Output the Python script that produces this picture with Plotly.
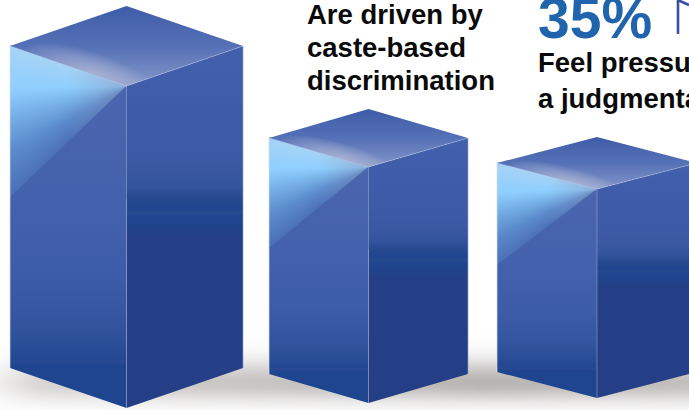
import numpy as np
import plotly.graph_objects as go

# --- data ---
bar_names = ["Bar 1", "Bar 2", "Bar 3"]
bar_heights = [322, 236, 209]
caption_lines = ["Are driven by", "caste-based", "discrimination"]
stat_label = "35%"
stat_lines = ["Feel pressu", "a judgmenta"]

# --- layout of the drawing (pixels) ---
W, H = 689, 410
bar_left = [10, 269, 497]
bar_half = [116.5, 99.5, 100]
bar_depth = [40, 29, 26]
bar_base = [368, 374, 372]
diag_end = [197, 248, 265]

LEFT_STOPS = [[0, "#4a66ae"], [.35, "#4461ad"], [.6, "#3c5ba8"], [.75, "#32549d"], [.85, "#234891"],
              [.855, "#2a4a92"], [.87, "#1f458f"], [1, "#1f458f"]]
RIGHT_STOPS = [[0, "#4360ac"], [.15, "#3e5ca9"], [.33, "#3b59a3"], [.39, "#34539d"], [.42, "#27498f"],
               [.45, "#20458f"], [.46, "#27498f"], [.47, "#20458f"], [.495, "#20438b"], [.535, "#243f85"], [1, "#243f85"]]
TOP_STOPS = [[0, "#3e5ca8"], [.5, "#5571b6"], [1, "#8296c8"]]
SHINE_SCALE = [[0, "#4b6fb6"], [.3, "#5b8bcc"], [.5, "#72aae2"], [.72, "#8fcfff"], [1, "#a6d3f6"]]
SHADOW_SCALE = [[0, "#ffffff"], [1, "#b8b4b2"]]

fig = go.Figure()


def poly(xs, ys, color=None, grad=None):
    t = dict(x=list(xs) + [xs[0]], y=list(ys) + [ys[0]], mode="lines", fill="toself",
             line=dict(width=0), hoverinfo="skip", showlegend=False)
    if grad:
        t["fillgradient"] = grad
    else:
        t["fillcolor"] = color
    fig.add_trace(go.Scatter(**t))


def seg(xs, ys, color, width=1):
    fig.add_trace(go.Scatter(x=xs, y=ys, mode="lines", line=dict(color=color, width=width),
                             hoverinfo="skip", showlegend=False))


def clip_half(points, a, b, inside):
    """Keep the part of a polygon on the side of line a-b where `inside` lies."""
    def side(p):
        return (b[0]-a[0])*(p[1]-a[1]) - (b[1]-a[1])*(p[0]-a[0])
    s = side(inside)
    out = []
    for i, p in enumerate(points):
        q = points[(i+1) % len(points)]
        sp, sq = side(p)*s, side(q)*s
        if sp >= 0:
            out.append(p)
        if sp*sq < 0:
            t = sp/(sp-sq)
            out.append((p[0]+t*(q[0]-p[0]), p[1]+t*(q[1]-p[1])))
    return out


# ground shadow
sx = np.arange(0, W+2, 3.0)
sy = np.arange(330, H+3, 2.0)
gx = np.interp(sx, [0, 10, 40, 120, 255, 350, 480, 689], [.22, .32, .55, .68, .78, .85, 1, .85])
gy = np.where(sy < 382, np.exp(-((sy-382)/22)**2), np.exp(-((sy-382)/19)**2))
fig.add_trace(go.Heatmap(x=sx, y=sy, z=np.outer(gy, gx), zmin=0, zmax=1, colorscale=SHADOW_SCALE,
                         zsmooth="best", showscale=False, hoverinfo="skip"))

# shine of the left faces
for i in range(3):
    xl, xm = bar_left[i], bar_left[i]+bar_half[i]
    ct = bar_base[i]-bar_heights[i]
    my = ct+bar_depth[i]
    ey = diag_end[i]
    hx = np.arange(xl+1, xm+1, 2.0)
    hy = np.arange(ct, ey+2, 2.0)
    X, Y = np.meshgrid(hx, hy)
    dx = np.maximum(xm-X, .5)
    at_edge = my+(Y-my)*(xm-xl)/dx
    phi = np.clip((ey-at_edge)/(ey-ct), 0, 1)
    fig.add_trace(go.Heatmap(x=hx, y=hy, z=phi, zmin=0, zmax=1, colorscale=SHINE_SCALE,
                             zsmooth="best", showscale=False, hoverinfo="skip"))

for i in range(3):
    xl, hw, d = bar_left[i], bar_half[i], bar_depth[i]
    xm, xr = xl+hw, xl+2*hw
    bot = bar_base[i]
    top = bot-bar_heights[i]
    my, ap, bm = top+d, top-d, bot+d
    ey = diag_end[i]

    # grey veil of the shine close to the front corner
    poly([xl, xm, xl], [top, my, ey], grad=dict(
        type="horizontal", start=xl+.5*hw, stop=xm,
        colorscale=[[0, "rgba(135,155,195,0)"], [1, "rgba(135,155,195,.6)"]]))
    # left face below the diagonal
    poly([xl, xm, xm, xl], [ey, my, bm, bot], grad=dict(type="vertical", start=my, stop=bm, colorscale=LEFT_STOPS))
    # right face
    poly([xm, xr, xr, xm], [my, top, bot, bm], grad=dict(type="vertical", start=top, stop=bm, colorscale=RIGHT_STOPS))
    # top face
    poly([xl, xm, xr, xm], [top, ap, top, my], grad=dict(type="vertical", start=ap, stop=my, colorscale=TOP_STOPS))
    # glow on the top face
    diamond = [(xl, top), (xm, ap), (xr, top), (xm, my)]
    cx, cy = xl+.72*hw, top+.68*d
    ang = np.arctan2(d, hw)
    th = np.linspace(0, 2*np.pi, 40, endpoint=False)
    for k in np.linspace(1, .08, 14):
        a, b = .62*hw*k, .5*d*k
        ex = cx+a*np.cos(th)*np.cos(ang)-b*np.sin(th)*np.sin(ang)
        ey2 = cy+a*np.cos(th)*np.sin(ang)+b*np.sin(th)*np.cos(ang)
        pts = list(zip(ex, ey2))
        for u, v in zip(diamond, diamond[1:]+diamond[:1]):
            if pts:
                pts = clip_half(pts, u, v, (xm, top))
        if pts:
            poly([p[0] for p in pts], [p[1] for p in pts], color="rgba(218,222,240,.05)")
    # edges
    seg([xl, xm, xr], [top, my, top], "rgba(205,215,240,.4)", .8)
    seg([xm, xm], [my, bm], "rgba(165,180,222,.6)", .8)
    seg([xl, xl], [top, bot], "rgba(215,220,240,.85)", .8)
    seg([xr, xr], [top, bot], "rgba(140,160,220,.8)", .8)

# corner of the flag icon cut by the window
seg([678, 678, 680, 684, 689], [34, 0, 1, 3, 5], "#3a4fa5", 2.6)


def label(text, x, baseline, size, color="#0a0a0a"):
    fig.add_annotation(x=x, y=baseline-.35*size, text=text, showarrow=False, xanchor="left", yanchor="middle",
                       borderpad=0, xshift=-1.5,
                       font=dict(family="Liberation Sans", size=size, color=color, weight=700))


for line, base in zip(caption_lines, [24, 57, 90]):
    label(line, 307, base, 27.5)
label(stat_label, 538, 37.5, 57, "#1f64ad")
for line, base in zip(stat_lines, [72, 108]):
    label(line, 538, base, 27.5)

fig.update_layout(width=W, height=H, margin=dict(l=0, r=0, t=0, b=0), paper_bgcolor="white", plot_bgcolor="white",
                  showlegend=False,
                  xaxis=dict(range=[0, W], visible=False, fixedrange=True),
                  yaxis=dict(range=[H, 0], visible=False, fixedrange=True))
fig.write_html("out.html", config=dict(displayModeBar=False),
               post_script="document.body.style.margin='0';document.body.style.overflow='hidden';")
